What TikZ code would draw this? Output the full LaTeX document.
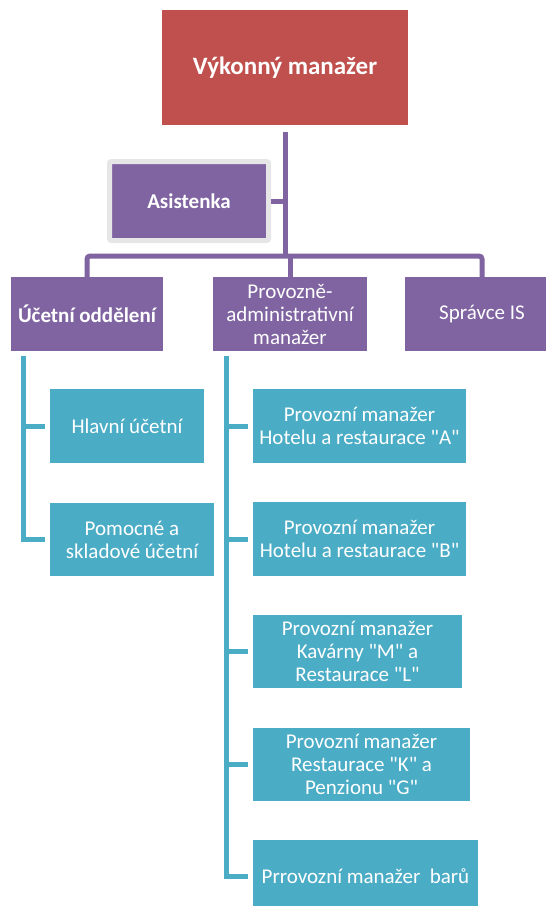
\documentclass[tikz,border=0pt]{standalone}
\usepackage{fontspec}
\newfontfamily\vedfont{Carlito}
\usetikzlibrary{positioning}
\definecolor{vedred}{RGB}{192,80,77}
\definecolor{vedpurple}{RGB}{128,100,162}
\definecolor{vedcyan}{RGB}{75,172,198}
\definecolor{vedframe}{RGB}{230,230,230}
\tikzset{
  rbox/.style={fill=vedred, text=white, inner sep=0pt, align=center, font=\vedfont\fontsize{25}{28}\selectfont\bfseries},
  pbox/.style={fill=vedpurple, text=white, inner sep=0pt, align=center, font=\vedfont\fontsize{21}{23}\selectfont},
  cbox/.style={fill=vedcyan, text=white, inner sep=0pt, align=center, font=\vedfont\fontsize{21}{23}\selectfont},
  boldtext/.style={font=\vedfont\fontsize{21}{23}\selectfont\bfseries},
  pline/.style={draw=vedpurple, line width=5pt},
  cline/.style={draw=vedcyan, line width=5pt}
}
\begin{document}
\begin{tikzpicture}[x=1pt,y=1pt,yscale=-1,xscale=1]
\useasboundingbox (0,0) rectangle (546,906);

%Shape: top box
\node [rbox, minimum width=246, minimum height=115] (vykon) at (285,67.5) {Výkonný manažer};
%Shape: assistant with frame
\node [pbox, boldtext, draw=vedframe, line width=5pt, rounded corners=2pt, minimum width=159, minimum height=79] (asist) at (189,201) {Asistenka};

%Shape: second level
\node [pbox, boldtext, minimum width=152, minimum height=74] (ucet) at (87,314) {Účetní oddělení};
\node [pbox, minimum width=154, minimum height=74] (prov) at (290,314) {Provozně-\\administrativní\\manažer};
\node [pbox, minimum width=154, minimum height=74] (sprava) at (482,314) {Správce IS};

%Shape: accounting
\node [cbox, minimum width=154, minimum height=74] (hlavni) at (127,426) {Hlavní účetní};
\node [cbox, minimum width=164, minimum height=73] (pomoc) at (132,539.5) {Pomocné a\\skladové účetní};

%Shape: operations
\node [cbox, minimum width=213, minimum height=74] (hotelA) at (359.5,426) {Provozní manažer\\Hotelu a restaurace "A"};
\node [cbox, minimum width=213, minimum height=74] (hotelB) at (359.5,539) {Provozní manažer\\Hotelu a restaurace "B"};
\node [cbox, minimum width=209, minimum height=73] (kavarna) at (357.5,651.5) {Provozní manažer\\Kavárny "M" a\\Restaurace "L"};
\node [cbox, minimum width=217, minimum height=73] (penzion) at (361.5,764.5) {Provozní manažer\\Restaurace "K" a\\Penzionu "G"};
\node [cbox, minimum width=225, minimum height=74] (bary) at (365.5,876.5) {Prrovozní manažer\ \ barů};

% Connectors
\coordinate (bus) at (285,256);
\draw [pline, shorten <=7pt] (vykon.south) -- (vykon.south |- bus);
\draw [pline] (asist.east) -- (asist.east -| vykon.south);
\draw [pline, rounded corners=3pt] (ucet.north) -- (ucet.north |- bus) -- (sprava.north |- bus) -- (sprava.north);
\draw [pline] (prov.north |- bus) -- (prov.north);

\coordinate (ucetbus) at (23,356);
\draw [cline, shorten >=5pt] (ucetbus) |- (hlavni.west);
\draw [cline, shorten >=5pt] (ucetbus) |- (pomoc.west);

\coordinate (provbus) at (226,356);
\draw [cline, shorten >=5pt] (provbus) |- (hotelA.west);
\draw [cline, shorten >=5pt] (provbus) |- (hotelB.west);
\draw [cline, shorten >=5pt] (provbus) |- (kavarna.west);
\draw [cline, shorten >=5pt] (provbus) |- (penzion.west);
\draw [cline, shorten >=5pt] (provbus) |- (bary.west);

\end{tikzpicture}
\end{document}
